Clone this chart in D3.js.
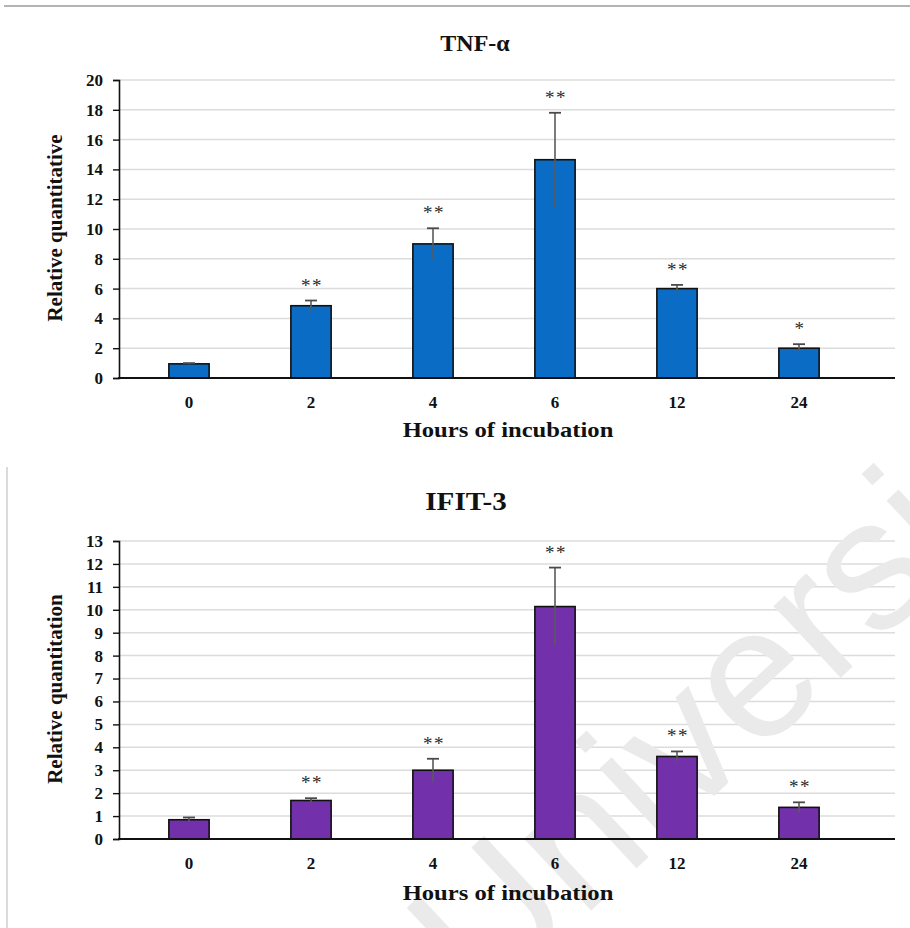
<!DOCTYPE html>
<html>
<head>
<meta charset="utf-8">
<script src="https://cdn.jsdelivr.net/npm/d3@7"></script>
<style>
  html, body { margin: 0; padding: 0; background: #fff; }
  svg { display: block; }
  text { font-family: "Liberation Serif", "Times New Roman", serif; font-weight: bold; }
</style>
</head>
<body>
<svg id="chart" width="910" height="928"></svg>
<script>
// Incubation time points shared by both panels
const hours = ["0", "2", "4", "6", "12", "24"];

// TNF-α relative quantitation (mean, SD, significance)
const tnfMean = [0.95, 4.85, 9.0, 14.65, 6.0, 2.0];
const tnfErr = [0.05, 0.35, 1.05, 3.15, 0.25, 0.27];
const tnfStars = ["", "**", "**", "**", "**", "*"];
const tnfTicks = [0, 2, 4, 6, 8, 10, 12, 14, 16, 18, 20];

// IFIT-3 relative quantitation (mean, SD, significance)
const ifitMean = [0.84, 1.68, 3.0, 10.14, 3.6, 1.38];
const ifitErr = [0.1, 0.1, 0.5, 1.7, 0.22, 0.22];
const ifitStars = ["", "**", "**", "**", "**", "**"];
const ifitTicks = [0, 1, 2, 3, 4, 5, 6, 7, 8, 9, 10, 11, 12, 13];

const svg = d3.select("#chart");

// page frame lines
svg.append("line").attr("x1", 4).attr("x2", 910).attr("y1", 6).attr("y2", 6)
  .attr("stroke", "#b4b4b4").attr("stroke-width", 2);
svg.append("line").attr("x1", 7).attr("x2", 7).attr("y1", 467).attr("y2", 928)
  .attr("stroke", "#cfcfcf").attr("stroke-width", 1.5);

const axisX = 119, gridEnd = 895;
const x = d3.scaleBand().domain(hours).range([128, 860])
  .paddingInner(0.67).paddingOuter(0.335);

const panels = [
  { title: "TNF-α", ylabel: "Relative quantitative", mean: tnfMean, err: tnfErr,
    stars: tnfStars, ticks: tnfTicks, color: "#0a6cc4",
    top: 80, bottom: 378, titleX: 475, titleY: 51, titleSize: 24, titleStretch: 1.0,
    xTitleY: 437, yTitleY: 228 },
  { title: "IFIT-3", ylabel: "Relative quantitation", mean: ifitMean, err: ifitErr,
    stars: ifitStars, ticks: ifitTicks, color: "#7230aa",
    top: 541, bottom: 839, titleX: 466, titleY: 510, titleSize: 26, titleStretch: 1.12,
    xTitleY: 900, yTitleY: 689 }
];

panels.forEach(p => {
  const y = d3.scaleLinear()
    .domain([0, d3.max(p.ticks)])
    .range([p.bottom, p.top]);
  const g = svg.append("g");

  // horizontal gridlines
  g.selectAll("line.grid").data(p.ticks.filter(t => t > 0)).join("line")
    .attr("class", "grid")
    .attr("x1", axisX).attr("x2", gridEnd)
    .attr("y1", d => y(d)).attr("y2", d => y(d))
    .attr("stroke", "#dcdcdc").attr("stroke-width", 1.5);

  // faint diagonal watermark behind the lower panel's bars
  if (p.title === "IFIT-3") {
    g.append("text")
      .attr("transform", "translate(450,975) rotate(-43)")
      .attr("dominant-baseline", "middle")
      .style("font-family", "'Liberation Sans', Arial, sans-serif")
      .style("font-weight", "normal")
      .style("font-size", "186px")
      .attr("fill", "#eaeaea")
      .text("Universi");
  }

  // bars
  g.selectAll("rect.bar").data(p.mean).join("rect")
    .attr("class", "bar")
    .attr("x", (d, i) => x(hours[i]))
    .attr("width", x.bandwidth())
    .attr("y", d => y(d))
    .attr("height", d => y(0) - y(d))
    .attr("fill", p.color)
    .attr("stroke", "#111").attr("stroke-width", 1.6);

  // error bars
  const cx = i => x(hours[i]) + x.bandwidth() / 2;
  const eb = g.selectAll("g.err").data(p.mean).join("g").attr("class", "err");
  eb.append("line")
    .attr("x1", (d, i) => cx(i)).attr("x2", (d, i) => cx(i))
    .attr("y1", (d, i) => y(d - p.err[i]))
    .attr("y2", (d, i) => y(d + p.err[i]))
    .attr("stroke", "#5a5a5a").attr("stroke-width", 1.6);
  eb.append("line")
    .attr("x1", (d, i) => cx(i) - 6).attr("x2", (d, i) => cx(i) + 6)
    .attr("y1", (d, i) => y(d + p.err[i]))
    .attr("y2", (d, i) => y(d + p.err[i]))
    .attr("stroke", "#4a4a4a").attr("stroke-width", 1.8);

  // significance marks
  g.selectAll("text.star").data(p.mean).join("text")
    .attr("class", "star")
    .attr("x", (d, i) => cx(i) + 1)
    .attr("y", (d, i) => y(d + p.err[i]) - 9)
    .attr("text-anchor", "middle")
    .style("font-size", "19px").style("font-weight", "normal")
    .style("letter-spacing", "1.5px")
    .attr("fill", "#2a2a2a")
    .text((d, i) => p.stars[i]);

  // y axis
  const ya = g.append("g").attr("transform", `translate(${axisX},0)`)
    .call(d3.axisLeft(y).tickValues(p.ticks).tickSize(6).tickPadding(10)
      .tickFormat(d3.format("d")));
  ya.select(".domain").attr("stroke", "#111").attr("stroke-width", 1.6);
  ya.selectAll(".tick line").attr("stroke", "#111").attr("stroke-width", 1.4);
  ya.selectAll(".tick text").attr("fill", "#111")
    .style("font-size", "17px").style("font-family", "'Liberation Serif', serif")
    .style("font-weight", "bold");

  // x axis
  const xa = g.append("g").attr("transform", `translate(0,${p.bottom})`)
    .call(d3.axisBottom(x).tickSize(0).tickPadding(18));
  xa.select(".domain").remove();
  xa.selectAll(".tick text").attr("fill", "#111")
    .style("font-size", "17px").style("font-family", "'Liberation Serif', serif")
    .style("font-weight", "bold");
  g.append("line").attr("x1", axisX - 1).attr("x2", gridEnd)
    .attr("y1", p.bottom).attr("y2", p.bottom)
    .attr("stroke", "#111").attr("stroke-width", 2);

  // titles
  g.append("text")
    .attr("transform", `translate(${p.titleX},${p.titleY}) scale(${p.titleStretch},1)`)
    .attr("text-anchor", "middle").attr("fill", "#111")
    .style("font-size", p.titleSize + "px").text(p.title);
  g.append("text")
    .attr("transform", `translate(508,${p.xTitleY}) scale(1.12,1)`)
    .attr("text-anchor", "middle").attr("fill", "#111")
    .style("font-size", "22px").text("Hours of incubation");
  g.append("text")
    .attr("transform", `translate(62,${p.yTitleY}) rotate(-90)`)
    .attr("text-anchor", "middle").attr("fill", "#111")
    .style("font-size", "21px").text(p.ylabel);
});
</script>
</body>
</html>
